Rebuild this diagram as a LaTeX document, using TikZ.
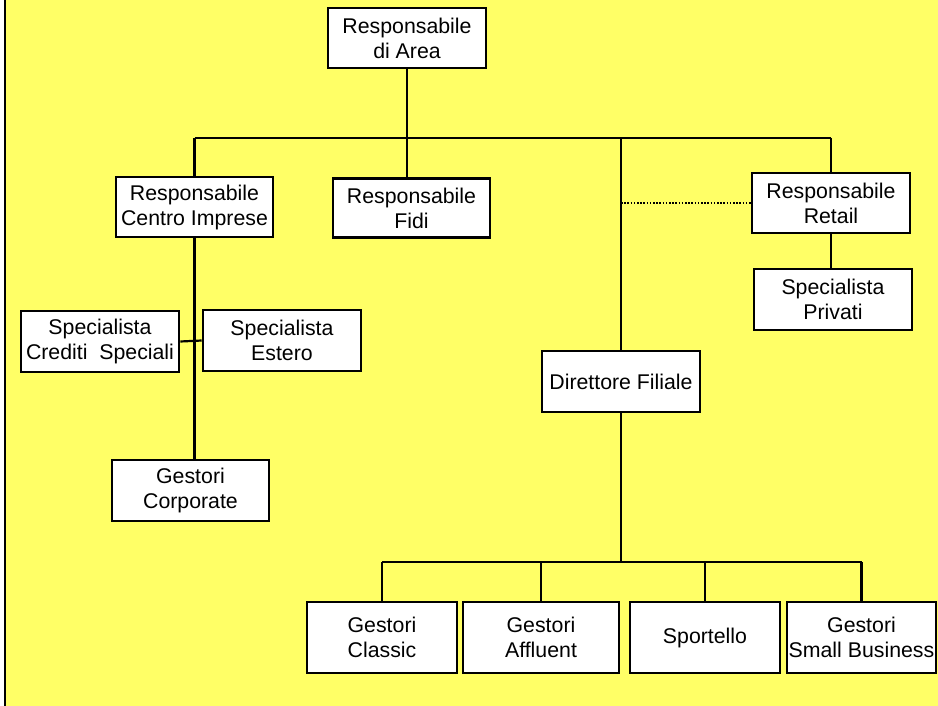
\documentclass[tikz,border=0pt]{standalone}
\usepackage{fontspec}
\setmainfont{Liberation Sans}
\definecolor{bgyellow}{RGB}{255,255,102}
\tikzset{
  box/.style={draw=black, fill=white, line width=2.6pt, inner sep=0pt, align=center,
    font=\fontsize{21.3}{25}\selectfont},
  conn/.style={draw=black, line width=2.2pt},
  dotconn/.style={draw=black, line width=1.8pt, dash pattern=on 1.6pt off 1.6pt}
}
\begin{document}
\begin{tikzpicture}[x=1pt,y=-1pt]
\useasboundingbox (0,0) rectangle (938,706);
\fill[white] (0,0) rectangle (938,706);
\fill[bgyellow] (5,0) rectangle (938,706);
\draw[line width=1.8pt] (5,0) -- (5,706);

% nodes
\node[box, minimum width=158pt, minimum height=60pt] (area) at (407,38) {Responsabile\\di Area};
\node[box, minimum width=157pt, minimum height=60pt] (ci) at (194.5,207) {Responsabile\\Centro Imprese};
\node[box, minimum width=157pt, minimum height=59pt] (fidi) at (411.5,208) {Responsabile\\Fidi};
\node[box, minimum width=158pt, minimum height=60pt] (retail) at (831,203) {Responsabile\\Retail};
\node[box, minimum width=158pt, minimum height=61pt] (priv) at (833,299.5) {Specialista\\Privati};
\node[box, minimum width=158pt, minimum height=61pt] (cred) at (100,341.5) {Specialista\\Crediti\ \ Speciali};
\node[box, minimum width=158pt, minimum height=61pt] (est) at (282,340.5) {Specialista\\Estero};
\node[box, minimum width=157pt, minimum height=61pt] (corp) at (190.5,490.5) {Gestori\\Corporate};
\node[box, minimum width=158pt, minimum height=61pt] (dir) at (621,381.5) {Direttore Filiale};
\node[box, minimum width=150pt, minimum height=71pt] (classic) at (382,637.5) {Gestori\\Classic};
\node[box, minimum width=156pt, minimum height=71pt] (affl) at (541,637.5) {Gestori\\Affluent};
\node[box, minimum width=150pt, minimum height=71pt] (sport) at (705,637.5) {Sportello};
\node[box, minimum width=149pt, minimum height=71pt] (small) at (861.5,637.5) {Gestori\\Small Business};

% top bus
\coordinate (busL) at (ci.north |- 0,138);
\coordinate (busR) at (retail.north |- 0,138);
\draw[conn] (busL) -- (busR);
\draw[conn] (area.south) -- (area.south |- busL);
\draw[conn] (area.south |- busL) -- (area.south |- fidi.north);
\draw[conn] (busL) -- (ci.north);
\draw[conn] (busR) -- (retail.north);
\draw[conn] (dir.north |- busL) -- (dir.north);
\draw[dotconn] (dir.north |- retail.west) -- (retail.west);
\draw[conn] (retail.south) -- (priv.north -| retail.south);

% centro imprese branch
\draw[conn] (ci.south) -- (ci.south |- corp.north);
\draw[conn] (cred.east) -- (est.west);

% bottom bus
\coordinate (bbusL) at (classic.north |- 0,562);
\coordinate (bbusR) at (small.north |- 0,562);
\draw[conn] (bbusL) -- (bbusR);
\draw[conn] (dir.south) -- (dir.south |- bbusL);
\draw[conn] (bbusL) -- (classic.north);
\draw[conn] (affl.north |- bbusL) -- (affl.north);
\draw[conn] (sport.north |- bbusL) -- (sport.north);
\draw[conn] (bbusR) -- (small.north);
\end{tikzpicture}
\end{document}
